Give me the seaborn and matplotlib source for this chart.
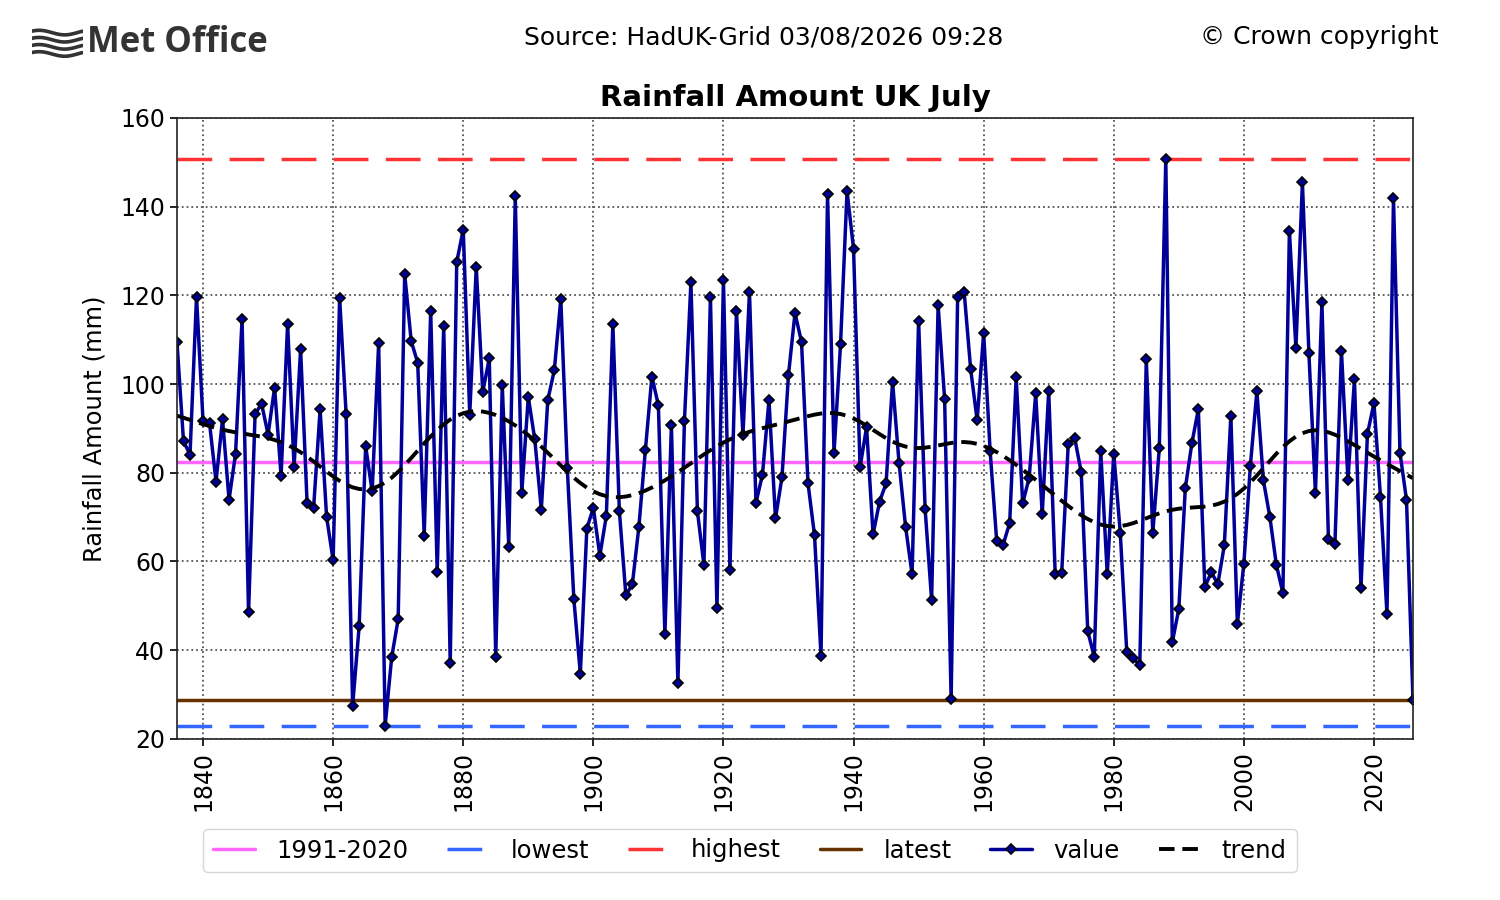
import numpy as np
import pandas as pd
import matplotlib
matplotlib.use("Agg")
import matplotlib.pyplot as plt
import seaborn as sns

# UK July rainfall (mm), 1836-2026
years = list(range(1836, 2027))
rain_1836_1867 = [109.4, 87.1, 84.1, 119.7, 91.7, 91.2, 78.0, 92.1, 73.9, 84.3, 114.6, 48.5,
                  93.2, 95.6, 88.6, 99.2, 79.3, 113.5, 81.4, 107.9, 73.1, 72.1, 94.3, 70.0,
                  60.3, 119.4, 93.2, 27.5, 45.4, 86.0, 75.8, 109.2]
rain_1868_1898 = [23.0, 38.4, 47.0, 124.8, 109.7, 104.8, 65.8, 116.5, 57.7, 113.1, 37.1, 127.5,
                  134.8, 93.1, 126.4, 98.2, 105.8, 38.5, 99.7, 63.3, 142.3, 75.5, 97.1, 87.5,
                  71.7, 96.4, 103.1, 119.2, 81.0, 51.6, 34.7]
rain_1899_1928 = [67.4, 72.1, 61.3, 70.3, 113.5, 71.4, 52.4, 54.9, 67.8, 85.1, 101.7, 95.2,
                  43.6, 90.7, 32.5, 91.6, 122.9, 71.3, 59.2, 119.7, 49.4, 123.5, 58.0, 116.5,
                  88.5, 120.8, 73.2, 79.6, 96.4, 69.7]
rain_1929_1959 = [79.0, 102.1, 116.0, 109.5, 77.6, 65.9, 38.8, 142.8, 84.5, 109.0, 143.5, 130.5,
                  81.2, 90.3, 66.1, 73.5, 77.6, 100.5, 82.1, 67.8, 57.1, 114.3, 71.9, 51.3,
                  117.8, 96.6, 29.0, 119.6, 120.8, 103.4, 91.8]
rain_1960_1990 = [111.5, 84.8, 64.7, 63.8, 68.7, 101.5, 73.1, 78.9, 97.9, 70.6, 98.4, 57.1,
                  57.5, 86.4, 87.8, 80.1, 44.3, 38.5, 84.8, 57.1, 84.3, 66.5, 39.6, 38.2,
                  36.6, 105.6, 66.4, 85.5, 150.7, 41.8, 49.3]
rain_1991_2026 = [76.5, 86.6, 94.3, 54.2, 57.6, 54.9, 63.7, 92.9, 45.9, 59.5, 81.6, 98.4,
                  78.3, 70.0, 59.2, 52.9, 134.5, 108.1, 145.5, 106.9, 75.5, 118.4, 65.1, 64.0,
                  107.4, 78.4, 101.1, 54.0, 88.8, 95.7, 74.6, 48.1, 141.9, 84.5, 73.9, 28.7]
average_1991_2020 = 82.4

rain = (rain_1836_1867 + rain_1868_1898 + rain_1899_1928 + rain_1929_1959
        + rain_1960_1990 + rain_1991_2026)
df = pd.DataFrame({"year": years, "value": rain})

# trend: gaussian-weighted smoothing of the series, renormalised at the ends
def smooth(x, y, sigma=6.2):
    x = np.asarray(x, float)
    y = np.asarray(y, float)
    out = []
    for xi in x:
        w = np.exp(-0.5 * ((x - xi) / sigma) ** 2)
        out.append(np.sum(w * y) / np.sum(w))
    return np.array(out)

df["trend"] = smooth(df["year"], df["value"])

sns.set_style("ticks")
plt.rcParams["font.family"] = ["DejaVu Sans"]
for key in ["text.color", "axes.labelcolor", "xtick.color", "ytick.color"]:
    plt.rcParams[key] = "black"

fig = plt.figure(figsize=(15, 9), dpi=100)
ax = fig.add_axes([0.118, 0.179, 0.824, 0.690])

lw = 2.5
ax.axhline(average_1991_2020, color="#ff66ff", lw=lw, label="1991-2020")
ax.axhline(df["value"].min(), color="#3366ff", lw=lw, dashes=(10, 5), label="lowest")
ax.axhline(df["value"].max(), color="#ff3333", lw=lw, dashes=(10, 5), label="highest")
ax.axhline(df["value"].iloc[-1], color="#663300", lw=lw, label="latest")
sns.lineplot(data=df, x="year", y="value", ax=ax, color="#000099", lw=lw,
             marker="D", markersize=5, markerfacecolor="#000099",
             markeredgecolor="black", markeredgewidth=1.2, label="value")
sns.lineplot(data=df, x="year", y="trend", ax=ax, color="black", lw=2.8,
             dashes=(4, 2), label="trend")

ax.set_xlim(1836, 2026)
ax.set_ylim(20, 160)
ax.set_xticks(range(1840, 2021, 20))
ax.set_yticks(range(20, 161, 20))
ax.tick_params(axis="x", labelrotation=90, labelsize=17, length=5, width=1.2)
ax.tick_params(axis="y", labelsize=17, length=5, width=1.2)
ax.grid(True, linestyle=":", color="#555555", lw=1.3)
for s in ax.spines.values():
    s.set_linewidth(1.2)
    s.set_color("#222222")
ax.set_xlabel("")
ax.set_ylabel("Rainfall Amount (mm)", fontsize=17.5, labelpad=10)
ax.set_title("Rainfall Amount UK July", fontsize=21, fontweight="bold", pad=8.5)

handles, labels = ax.get_legend_handles_labels()
if ax.get_legend():
    ax.get_legend().remove()
fig.legend(handles, labels, loc="center", bbox_to_anchor=(0.5, 0.055), ncol=6,
           fontsize=17.5, frameon=True, edgecolor="#cccccc", columnspacing=1.6,
           handlelength=1.7, handletextpad=0.9, borderpad=0.4)

fig.text(0.509, 0.958, "Source: HadUK-Grid 03/08/2026 09:28", fontsize=18,
         ha="center", va="center")
fig.text(0.959, 0.959, "\u00a9 Crown copyright", fontsize=18, ha="right", va="center")

# Met Office logo: wave mark + wordmark
logo = fig.add_axes([0.021, 0.935, 0.034, 0.036])
t = np.linspace(0, 1, 60)
for k in range(4):
    logo.plot(t, 0.80 - k * 0.22 + 0.07 * np.sin(2 * np.pi * (t + 0.1)),
              color="#333333", lw=2.6)
logo.set_xlim(0, 1)
logo.set_ylim(0, 1)
logo.axis("off")
fig.text(0.058, 0.952, "Met Office", fontsize=25, fontweight="bold",
         family=["Open Sans", "DejaVu Sans"],
         color="#333333", ha="left", va="center")

fig.savefig("out.png", dpi=100)
